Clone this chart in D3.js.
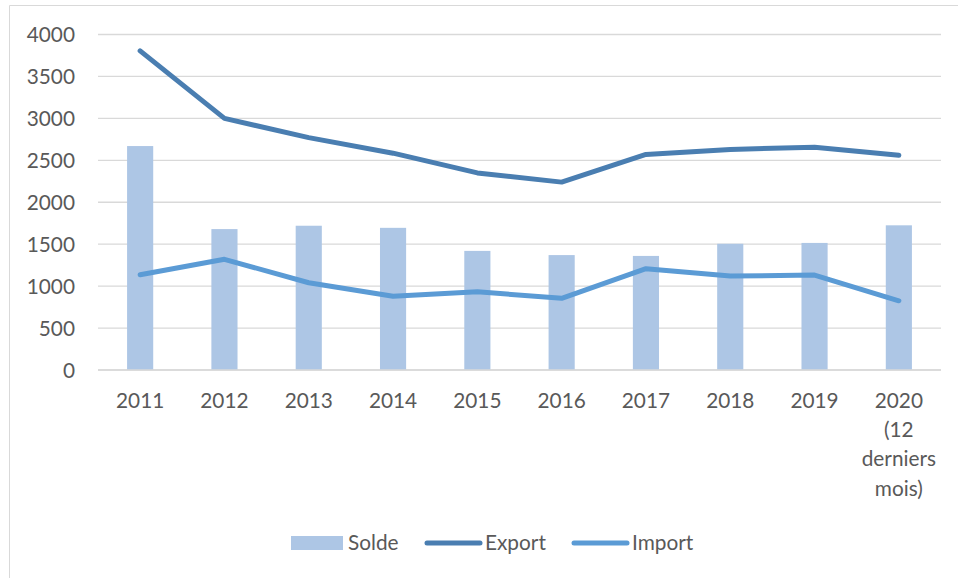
<!DOCTYPE html>
<html><head><meta charset="utf-8">
<script src="https://cdn.jsdelivr.net/npm/d3@7"></script>
<style>body{margin:0;background:#fff}svg{display:block}text{font-family:Lato,"Open Sans",sans-serif;fill:#595959}</style>
</head><body><svg id="c" width="958" height="578"></svg>
<script>
const categories = ["2011","2012","2013","2014","2015","2016","2017","2018","2019","2020 (12 derniers mois)"];
const categoryLines = [["2011"],["2012"],["2013"],["2014"],["2015"],["2016"],["2017"],["2018"],["2019"],["2020","(12","derniers","mois)"]];
const solde = [2670,1680,1720,1695,1420,1370,1360,1505,1515,1725];
const exportVals = [3805,3000,2770,2585,2350,2240,2570,2630,2655,2560];
const importVals = [1135,1320,1040,880,932,855,1208,1120,1132,825];
const yTicks = [0,500,1000,1500,2000,2500,3000,3500,4000];

const svg = d3.select("#c");
const m = {l:98, r:941, t:34.5, b:370};
const x = d3.scaleBand().domain(categories).range([m.l, m.r]).paddingInner(0.69).paddingOuter(0.345);
const xc = d => x(d) + x.bandwidth()/2;
const y = d3.scaleLinear().domain([0,4000]).range([m.b, m.t]);
const fs = "20.8px";

// outer border
svg.append("path").attr("d","M9.5,578 V5.5 H958").attr("fill","none").attr("stroke","#d9d9d9").attr("stroke-width",1);

// gridlines
svg.append("g").selectAll("line").data(yTicks).join("line")
  .attr("x1",m.l).attr("x2",m.r).attr("y1",d=>y(d)).attr("y2",d=>y(d))
  .attr("stroke","#d9d9d9").attr("stroke-width",1.3);

// y axis labels
const yAxis = d3.axisLeft(y).tickValues(yTicks).tickFormat(d3.format("d")).tickSize(0).tickPadding(0);
const gy = svg.append("g").attr("transform","translate(75,0)").call(yAxis);
gy.select(".domain").remove();
gy.selectAll("text").style("font-size",fs).attr("fill","#595959").attr("dy","0.35em").style("font-family","Lato");

// bars
svg.append("g").selectAll("rect").data(solde).join("rect")
  .attr("x",(d,i)=>x(categories[i])).attr("width",x.bandwidth())
  .attr("y",d=>y(d)).attr("height",d=>y(0)-y(d)).attr("fill","#adc6e5");

// x axis line over bars
svg.append("line").attr("x1",m.l).attr("x2",m.r).attr("y1",y(0)).attr("y2",y(0)).attr("stroke","#d9d9d9").attr("stroke-width",1.3);

// lines
const line = d3.line().x((d,i)=>xc(categories[i])).y(d=>y(d));
svg.append("path").datum(exportVals).attr("d",line).attr("fill","none").attr("stroke","#4a7eb1").attr("stroke-width",5).attr("stroke-linecap","round").attr("stroke-linejoin","round");
svg.append("path").datum(importVals).attr("d",line).attr("fill","none").attr("stroke","#5b9bd5").attr("stroke-width",5).attr("stroke-linecap","round").attr("stroke-linejoin","round");

// x labels
const xa = svg.append("g");
categories.forEach((c,i)=>{
  const t = xa.append("text").attr("x",xc(c)).attr("y",408).attr("text-anchor","middle").style("font-size",fs);
  categoryLines[i].forEach((ln,j)=>{
    t.append("tspan").attr("x",xc(c)).attr("dy",j===0?0:29.2).text(ln);
  });
});

// legend
const lg = svg.append("g");
lg.append("rect").attr("x",291).attr("y",536).attr("width",52).attr("height",14).attr("fill","#adc6e5");
lg.append("text").attr("x",348).attr("y",550).style("font-size",fs).text("Solde");
lg.append("line").attr("x1",427).attr("x2",480).attr("y1",543).attr("y2",543).attr("stroke","#4a7eb1").attr("stroke-width",5).attr("stroke-linecap","round");
lg.append("text").attr("x",485).attr("y",550).style("font-size",fs).text("Export");
lg.append("line").attr("x1",574).attr("x2",627).attr("y1",543).attr("y2",543).attr("stroke","#5b9bd5").attr("stroke-width",5).attr("stroke-linecap","round");
lg.append("text").attr("x",632).attr("y",550).style("font-size",fs).text("Import");
</script></body></html>
